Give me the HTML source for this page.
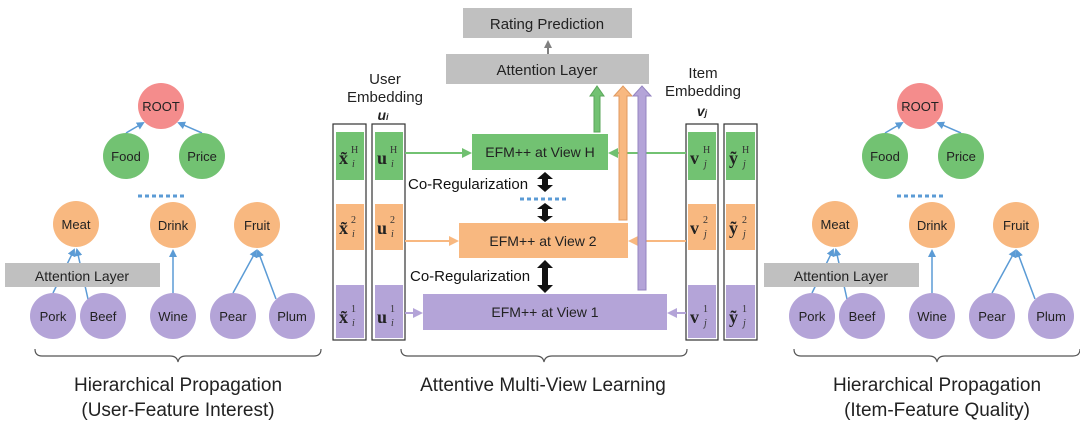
<!DOCTYPE html>
<html><head><meta charset="utf-8"><style>body{margin:0;background:#fff}svg{display:block}</style></head><body>
<svg width="1080" height="437" viewBox="0 0 1080 437" xmlns="http://www.w3.org/2000/svg" font-family="Liberation Sans, sans-serif">
<defs>
<marker id="ab" markerWidth="8" markerHeight="8" refX="6" refY="4" orient="auto" markerUnits="userSpaceOnUse"><path d="M0,0 L8,4 L0,8 z" fill="#5b9bd5"/></marker>
<marker id="ag" markerWidth="10" markerHeight="10" refX="8" refY="5" orient="auto" markerUnits="userSpaceOnUse"><path d="M0,0 L10,5 L0,10 z" fill="#70c070"/></marker>
<marker id="ao" markerWidth="10" markerHeight="10" refX="8" refY="5" orient="auto" markerUnits="userSpaceOnUse"><path d="M0,0 L10,5 L0,10 z" fill="#f8b880"/></marker>
<marker id="ap" markerWidth="10" markerHeight="10" refX="8" refY="5" orient="auto" markerUnits="userSpaceOnUse"><path d="M0,0 L10,5 L0,10 z" fill="#b4a4d8"/></marker>
<marker id="ak" markerWidth="8" markerHeight="8" refX="6" refY="4" orient="auto" markerUnits="userSpaceOnUse"><path d="M0,0 L8,4 L0,8 z" fill="#808080"/></marker>
<g id="tree">
<g stroke="#5b9bd5" stroke-width="1.5" fill="none">
<line x1="126" y1="133" x2="143" y2="123" marker-end="url(#ab)"/>
<line x1="202" y1="133" x2="179" y2="123" marker-end="url(#ab)"/>
<line x1="53" y1="293" x2="74" y2="250" marker-end="url(#ab)"/>
<line x1="88" y1="299" x2="77" y2="250" marker-end="url(#ab)"/>
<line x1="173" y1="293" x2="173" y2="251" marker-end="url(#ab)"/>
<line x1="233" y1="293" x2="256" y2="251" marker-end="url(#ab)"/>
<line x1="276" y1="299" x2="258" y2="251" marker-end="url(#ab)"/>
</g>
<line x1="138" y1="196" x2="186" y2="196" stroke="#5b9bd5" stroke-width="3" stroke-dasharray="4,3"/>
<rect x="5" y="263" width="155" height="24" fill="#c0c0c0"/>
<text x="82" y="281" text-anchor="middle" font-size="14" fill="#222">Attention Layer</text>
<g font-size="13" text-anchor="middle" fill="#222">
<circle cx="161" cy="106" r="23" fill="#f48c8c"/><text x="161" y="111">ROOT</text>
<circle cx="126" cy="156" r="23" fill="#72c272"/><text x="126" y="161">Food</text>
<circle cx="202" cy="156" r="23" fill="#72c272"/><text x="202" y="161">Price</text>
<circle cx="76" cy="224" r="23" fill="#f8b880"/><text x="76" y="229">Meat</text>
<circle cx="173" cy="225" r="23" fill="#f8b880"/><text x="173" y="230">Drink</text>
<circle cx="257" cy="225" r="23" fill="#f8b880"/><text x="257" y="230">Fruit</text>
<circle cx="53" cy="316" r="23" fill="#b4a4d8"/><text x="53" y="321">Pork</text>
<circle cx="103" cy="316" r="23" fill="#b4a4d8"/><text x="103" y="321">Beef</text>
<circle cx="173" cy="316" r="23" fill="#b4a4d8"/><text x="173" y="321">Wine</text>
<circle cx="233" cy="316" r="23" fill="#b4a4d8"/><text x="233" y="321">Pear</text>
<circle cx="292" cy="316" r="23" fill="#b4a4d8"/><text x="292" y="321">Plum</text>
</g>
<path d="M35,349 Q35,356 42,356 L170,356 Q177,356 178,362 Q179,356 186,356 L314,356 Q321,356 321,349" fill="none" stroke="#555" stroke-width="1.2"/>
</g>
</defs>
<use href="#tree"/>
<use href="#tree" x="759"/>
<g font-size="19" text-anchor="middle" fill="#222">
<text x="178" y="391">Hierarchical Propagation</text>
<text x="178" y="416">(User-Feature Interest)</text>
<text x="937" y="391">Hierarchical Propagation</text>
<text x="937" y="416">(Item-Feature Quality)</text>
<text x="543" y="391">Attentive Multi-View Learning</text>
</g>
<path d="M401,349 Q401,356 408,356 L536,356 Q543,356 544,362 Q545,356 552,356 L680,356 Q687,356 687,349" fill="none" stroke="#555" stroke-width="1.2"/>
<rect x="463" y="8" width="169" height="30" fill="#c0c0c0"/>
<text x="547" y="29" text-anchor="middle" font-size="15" fill="#222">Rating Prediction</text>
<line x1="548" y1="54" x2="548" y2="42" stroke="#808080" stroke-width="2" marker-end="url(#ak)"/>
<rect x="446" y="54" width="203" height="30" fill="#c0c0c0"/>
<text x="547" y="75" text-anchor="middle" font-size="15" fill="#222">Attention Layer</text>
<g font-size="15" text-anchor="middle" fill="#222">
<text x="385" y="84">User</text><text x="385" y="102">Embedding</text>
<text x="383" y="120" font-weight="bold" font-style="italic" font-size="14">u<tspan font-size="9">i</tspan></text>
<text x="703" y="78">Item</text><text x="703" y="96">Embedding</text>
<text x="702" y="116" font-weight="bold" font-style="italic" font-size="14">v<tspan font-size="9">j</tspan></text>
</g>
<g stroke="#333" stroke-width="1.2" fill="none">
<rect x="333" y="124" width="33" height="216"/><rect x="372" y="124" width="33" height="216"/>
<rect x="686" y="124" width="32" height="216"/><rect x="724" y="124" width="33" height="216"/>
</g>
<g>
<rect x="336" y="132" width="28" height="48" fill="#72c272"/><rect x="375" y="132" width="28" height="48" fill="#72c272"/>
<rect x="688" y="132" width="28" height="48" fill="#72c272"/><rect x="726" y="132" width="29" height="48" fill="#72c272"/>
<rect x="336" y="204" width="28" height="46" fill="#f8b880"/><rect x="375" y="204" width="28" height="46" fill="#f8b880"/>
<rect x="688" y="204" width="28" height="46" fill="#f8b880"/><rect x="726" y="204" width="29" height="46" fill="#f8b880"/>
<rect x="336" y="285" width="28" height="53" fill="#b4a4d8"/><rect x="375" y="285" width="28" height="53" fill="#b4a4d8"/>
<rect x="688" y="285" width="28" height="53" fill="#b4a4d8"/><rect x="726" y="285" width="29" height="53" fill="#b4a4d8"/>
</g>
<g font-family="Liberation Serif, serif" font-size="18" font-weight="bold" fill="#222">
<text x="339" y="164">x̃</text><text x="377" y="164">u</text><text x="690" y="164">v</text><text x="729" y="164">ỹ</text>
<text x="339" y="234">x̃</text><text x="377" y="234">u</text><text x="690" y="234">v</text><text x="729" y="234">ỹ</text>
<text x="339" y="323">x̃</text><text x="377" y="323">u</text><text x="690" y="323">v</text><text x="729" y="323">ỹ</text>
</g>
<g font-family="Liberation Serif, serif" font-size="10" fill="#333">
<text x="351" y="153">H</text><text x="390" y="153">H</text><text x="703" y="153">H</text><text x="742" y="153">H</text>
<text x="351" y="223">2</text><text x="390" y="223">2</text><text x="703" y="223">2</text><text x="742" y="223">2</text>
<text x="351" y="312">1</text><text x="390" y="312">1</text><text x="703" y="312">1</text><text x="742" y="312">1</text>
</g>
<g font-family="Liberation Serif, serif" font-size="10" font-style="italic" fill="#333">
<text x="352" y="167">i</text><text x="391" y="167">i</text><text x="704" y="167">j</text><text x="743" y="167">j</text>
<text x="352" y="237">i</text><text x="391" y="237">i</text><text x="704" y="237">j</text><text x="743" y="237">j</text>
<text x="352" y="326">i</text><text x="391" y="326">i</text><text x="704" y="326">j</text><text x="743" y="326">j</text>
</g>
<rect x="472" y="134" width="136" height="36" fill="#72c272"/>
<rect x="459" y="223" width="169" height="35" fill="#f8b880"/>
<rect x="423" y="294" width="244" height="36" fill="#b4a4d8"/>
<g font-size="14" text-anchor="middle" fill="#222">
<text x="540" y="157">EFM++ at View H</text>
<text x="543" y="246">EFM++ at View 2</text>
<text x="545" y="317">EFM++ at View 1</text>
</g>
<line x1="405" y1="153" x2="470" y2="153" stroke="#72c272" stroke-width="2" marker-end="url(#ag)"/>
<line x1="686" y1="153" x2="610" y2="153" stroke="#72c272" stroke-width="2" marker-end="url(#ag)"/>
<line x1="405" y1="241" x2="457" y2="241" stroke="#f8b880" stroke-width="2" marker-end="url(#ao)"/>
<line x1="686" y1="241" x2="630" y2="241" stroke="#f8b880" stroke-width="2" marker-end="url(#ao)"/>
<line x1="405" y1="313" x2="421" y2="313" stroke="#b4a4d8" stroke-width="2" marker-end="url(#ap)"/>
<line x1="686" y1="313" x2="669" y2="313" stroke="#b4a4d8" stroke-width="2" marker-end="url(#ap)"/>
<path d="M594,132 L594,96 L590,96 L597,86 L604,96 L600,96 L600,132 Z" fill="#72c272" stroke="#5aa65a" stroke-width="1"/>
<path d="M619,220 L619,96 L614,96 L623,86 L632,96 L627,96 L627,220 Z" fill="#f8b880" stroke="#e09a60" stroke-width="1"/>
<path d="M638,290 L638,96 L633,96 L642,86 L651,96 L646,96 L646,290 Z" fill="#b4a4d8" stroke="#9484c0" stroke-width="1"/>
<g font-size="15" fill="#111"><text x="408" y="189">Co-Regularization</text><text x="410" y="281">Co-Regularization</text></g>
<g fill="#111">
<path d="M545,172 L553,179 L548,179 L548,185 L553,185 L545,192 L537,185 L542,185 L542,179 L537,179 Z"/>
<path d="M545,203 L553,209 L548,209 L548,216 L553,216 L545,222 L537,216 L542,216 L542,209 L537,209 Z"/>
<path d="M545,260 L553,268 L548,268 L548,285 L553,285 L545,293 L537,285 L542,285 L542,268 L537,268 Z"/>
</g>
<line x1="520" y1="199" x2="569" y2="199" stroke="#5b9bd5" stroke-width="3" stroke-dasharray="4,3"/>
</svg>
</body></html>
